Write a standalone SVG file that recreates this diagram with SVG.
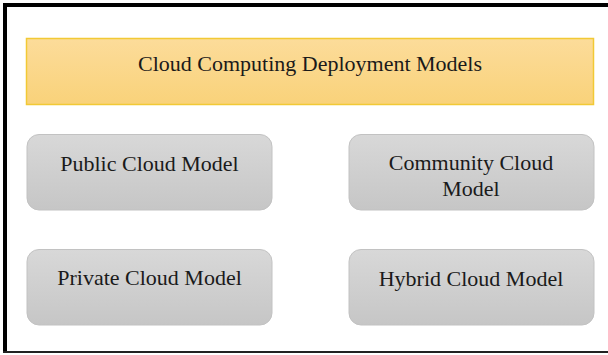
<svg xmlns="http://www.w3.org/2000/svg" width="608" height="355" viewBox="0 0 608 355">
<defs>
<linearGradient id="gTitle" x1="0" y1="0" x2="0" y2="1">
<stop offset="0" stop-color="#fcdc9a"/>
<stop offset="1" stop-color="#f9d27a"/>
</linearGradient>
<linearGradient id="gBox" x1="0" y1="0" x2="0" y2="1">
<stop offset="0" stop-color="#d8d8d8"/>
<stop offset="1" stop-color="#c6c6c6"/>
</linearGradient>
</defs>
<style>
.t{font-family:'Liberation Serif',serif;font-size:22px;fill:#1a1a1a;text-anchor:middle}
.box{fill:url(#gBox);stroke:#c2c2c2;stroke-width:1}
</style>
<rect x="0" y="0" width="608" height="355" fill="#ffffff"/>
<path d="M5,352 V5 H608" fill="none" stroke="#000" stroke-width="4"/>
<line x1="3" y1="352" x2="608" y2="352" stroke="#222" stroke-width="2"/>
<g id="title">
<rect x="26.5" y="38.5" width="567" height="66" fill="url(#gTitle)" stroke="#f2c935" stroke-width="1.5"/>
<text class="t" x="310" y="71" font-family="Liberation Serif, serif">Cloud Computing Deployment Models</text>
</g>
<g id="public">
<rect class="box" x="27" y="134.5" width="245" height="75.5" rx="12"/>
<text class="t" x="149.5" y="171">Public Cloud Model</text>
</g>
<g id="community">
<rect class="box" x="349" y="134.5" width="245" height="75.5" rx="12"/>
<text class="t" x="471" y="170">Community Cloud</text>
<text class="t" x="471" y="196">Model</text>
</g>
<g id="private">
<rect class="box" x="27" y="249.5" width="245" height="75.5" rx="12"/>
<text class="t" x="149.5" y="285">Private Cloud Model</text>
</g>
<g id="hybrid">
<rect class="box" x="349" y="249.5" width="245" height="75.5" rx="12"/>
<text class="t" x="471" y="286">Hybrid Cloud Model</text>
</g>
<g id="connectors"/>
</svg>
